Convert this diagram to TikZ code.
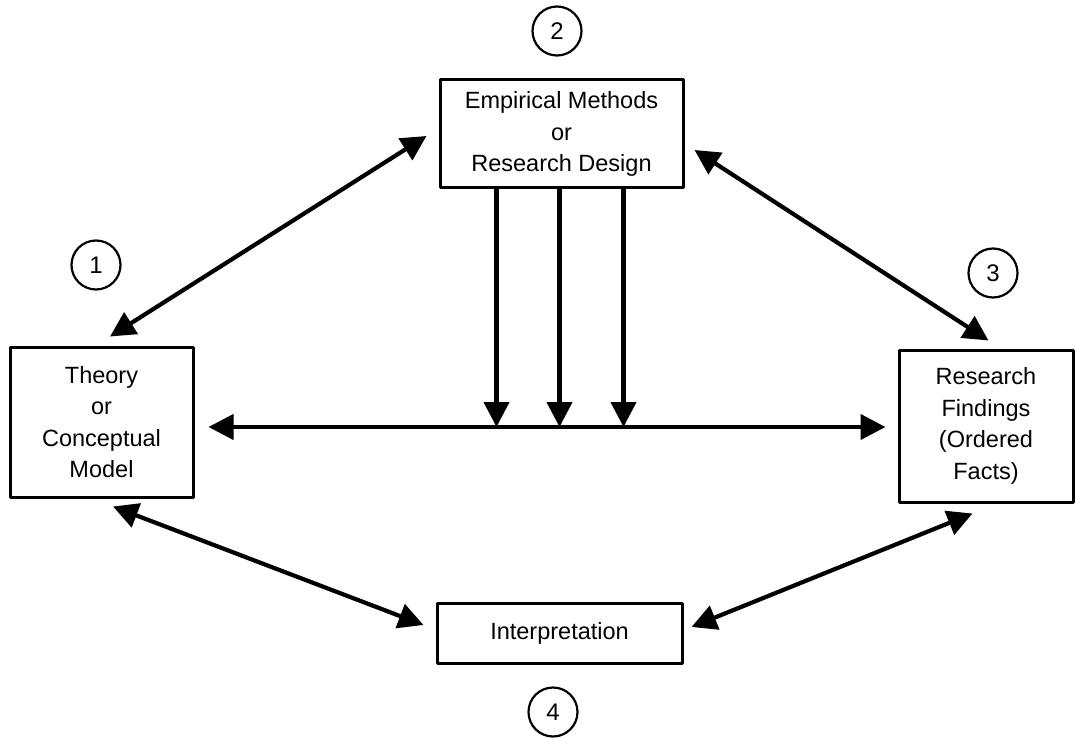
\documentclass[tikz,border=0pt]{standalone}
\usepackage{fontspec}
\setmainfont{Liberation Sans}
\usetikzlibrary{arrows.meta}
\tikzset{
	box/.style={draw, line width=3pt, inner sep=0pt, align=center, font=\fontsize{23.5}{31.5}\selectfont},
	num/.style={draw, circle, line width=2.2pt, minimum size=49pt, inner sep=0pt, font=\fontsize{24}{28}\selectfont},
	link/.style={line width=4.2pt, {Triangle[length=25pt,width=25pt]}-{Triangle[length=25pt,width=25pt]}},
	feed/.style={line width=4.2pt, -{Triangle[length=25pt,width=25pt]}}
}
\begin{document}
\begin{tikzpicture}[x=1pt,y=-1pt, line join=round]
				\path[fill=white] (0,0) rectangle (1075,737);
				% Các khung chính
				\node[box, minimum width=243pt, minimum height=108pt] (emp) at (561.5,134) {Empirical Methods\\or\\Research Design};
				\node[box, minimum width=183pt, minimum height=150pt] (theory) at (101.5,422) {Theory\\or\\Conceptual\\Model};
				\node[box, minimum width=174pt, minimum height=152pt] (rf) at (986,426) {Research\\Findings\\(Ordered\\Facts)};
				\node[box, minimum width=245pt, minimum height=60pt] (interp) at (559.5,633) {Interpretation};
				% Các số đánh dấu
				\node[num] (n1) at (96,265) {1};
				\node[num] (n2) at (557,31) {2};
				\node[num] (n3) at (993,273) {3};
				\node[num] (n4) at (553,712) {4};
				% Mũi tên hai chiều
				\draw[link] ([shift={(-12,2)}]emp.west) -- ([shift={(8.5,-9)}]theory.north);
				\draw[link] ([shift={(10,16)}]emp.east) -- ([shift={(2.5,-8)}]rf.north);
				\draw[link] ([shift={(11.5,8)}]theory.south) -- ([shift={(-12,-8)}]interp.west);
				\draw[link] ([shift={(8,-6)}]interp.east) -- ([shift={(-13.5,10)}]rf.south);
				\coordinate (hl) at ([shift={(14,5)}]theory.east);
				\draw[link] (hl) -- ([shift={(-12,1)}]rf.west);
				% Ba mũi tên đi xuống
				\foreach \dx in {-65,-2,62}
				\draw[feed] ([xshift=\dx]emp.south) -- ([xshift=\dx]emp.south |- hl);
			\end{tikzpicture}
\end{document}
